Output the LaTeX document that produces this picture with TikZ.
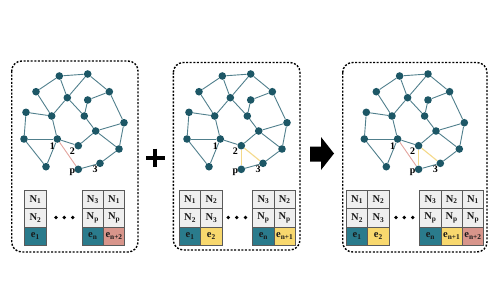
\documentclass[tikz,border=0pt]{standalone}
\usepackage{fontspec}
\setmainfont{Liberation Serif}
\definecolor{nodeteal}{HTML}{1D5766}
\definecolor{edgeteal}{HTML}{507F8C}
\definecolor{edgered}{HTML}{E3A49E}
\definecolor{edgeyellow}{HTML}{F4D98A}
\definecolor{cellgray}{HTML}{EFEFEF}
\definecolor{cellborder}{HTML}{5A5A5A}
\definecolor{eteal}{HTML}{2A7B8C}
\definecolor{eyellow}{HTML}{F8D86E}
\definecolor{esalmon}{HTML}{D8958B}
\newcommand\cN[1]{N\textsubscript{#1}}
\newcommand\cE[1]{e\textsubscript{#1}}
\newcommand\mygraph{%
  \foreach \n/\x/\y in {A/59.3/76, B/87.7/74, C/36/91.7, D/67.3/97.7, E/109.3/91.7, F/87.7/100, G/26/112.3, H/51.7/116, I/84.3/116, J/124/122.7, K/95.7/131, L/24/139, M/57.3/139, N/78.3/145.7, O/119/149, Q/46/166.7, P/78.3/169.3, R/100/163.3}
    {\node[gnode] (\n) at (\x,\y) {};}
  \foreach \a/\b in {A/B,A/C,A/D,B/D,B/E,D/H,D/I,C/H,G/H,G/L,H/M,L/M,L/Q,Q/M,M/N,N/K,I/F,I/K,F/E,E/J,K/J,K/O,J/O,O/R,R/P}
    {\draw[gedge] (\a) -- (\b);}
  \node[glabel] (l1) at (52.3,145.7) {1};
  \node[glabel] (l2) at (72.3,150.7) {2};
  \node[glabel] (lp) at (72.3,172.7) {p};
  \node[glabel] (l3) at (95,169.5) {3};
}
% name, x, text1, text2, text3, fill of last cell
\newcommand\tabcol[6]{%
  \node[ncell] (#1-1) at (#2,190) {#3};
  \node[ncell] (#1-2) at (#2,208.3) {#4};
  \node[cell,fill=#6] (#1-3) at (#2,226.6) {#5};
}
\newcommand\threedots[3]{%
  \fill[black] (#1) circle (1.9);
  \fill[black] (#2) circle (1.9);
  \fill[black] (#3) circle (1.9);
}
\begin{document}
\begin{tikzpicture}[x=1pt,y=-1pt,
  gnode/.style={circle,fill=nodeteal,inner sep=0pt,minimum size=7.6pt},
  gedge/.style={draw=edgeteal,line width=0.9pt},
  redge/.style={draw=edgered,line width=0.9pt},
  yedge/.style={draw=edgeyellow,line width=1.1pt},
  glabel/.style={font=\bfseries\fontsize{10}{10}\selectfont,inner sep=0pt},
  cell/.style={draw=cellborder,line width=0.9pt,minimum width=21.3pt,minimum height=18.3pt,inner sep=0pt,anchor=north west,font=\bfseries\fontsize{10.5}{10.5}\selectfont,text=black!90},
  ncell/.style={cell,fill=cellgray},
  panel/.style={draw=black,line width=1.4pt,dash pattern=on 2pt off 1.6pt,rounded corners=10pt}
]
\useasboundingbox (0,0) rectangle (500,300);

% panels
\draw[panel] (11.7,61) rectangle (138,252);
\draw[panel] (173.3,62.5) rectangle (300,250);
\draw[panel] (342.7,62.5) rectangle (487,252);

% graph 1
\begin{scope}[name prefix=ga-]
  \mygraph
  \draw[redge] (M) -- (P);
\end{scope}
% graph 2
\begin{scope}[shift={(163,0)},name prefix=gb-]
  \mygraph
  \draw[yedge] (N) -- (P);
  \draw[yedge] (N) -- (R);
\end{scope}
% graph 3
\begin{scope}[shift={(340.3,0)},name prefix=gc-]
  \mygraph
  \draw[redge] (M) -- (P);
  \draw[yedge] (N) -- (P);
  \draw[yedge] (N) -- (R);
\end{scope}

% tables panel 1
\tabcol{ta1}{24.3}{\cN{1}}{\cN{2}}{\cE{1}}{eteal}
\tabcol{ta2}{81.7}{\cN{3}}{\cN{p}}{\cE{n}}{eteal}
\tabcol{ta3}{103}{\cN{1}}{\cN{p}}{\cE{n+2}}{esalmon}
\coordinate (da1) at (56,217.5);
\coordinate (da2) at (64.3,217.5);
\coordinate (da3) at (72.7,217.5);
\threedots{da1}{da2}{da3}

% tables panel 2
\tabcol{tb1}{179}{\cN{1}}{\cN{2}}{\cE{1}}{eteal}
\tabcol{tb2}{200.3}{\cN{2}}{\cN{3}}{\cE{2}}{eyellow}
\tabcol{tb3}{252.3}{\cN{3}}{\cN{p}}{\cE{n}}{eteal}
\tabcol{tb4}{273.6}{\cN{2}}{\cN{p}}{\cE{n+1}}{eyellow}
\coordinate (db1) at (228.3,217.5);
\coordinate (db2) at (236.8,217.5);
\coordinate (db3) at (245.5,217.5);
\threedots{db1}{db2}{db3}

% tables panel 3
\tabcol{tc1}{346}{\cN{1}}{\cN{2}}{\cE{1}}{eteal}
\tabcol{tc2}{367.3}{\cN{2}}{\cN{3}}{\cE{2}}{eyellow}
\tabcol{tc3}{419.3}{\cN{3}}{\cN{p}}{\cE{n}}{eteal}
\tabcol{tc4}{440.6}{\cN{2}}{\cN{p}}{\cE{n+1}}{eyellow}
\tabcol{tc5}{461.9}{\cN{1}}{\cN{p}}{\cE{n+2}}{esalmon}
\coordinate (dc1) at (396,217.5);
\coordinate (dc2) at (404.3,217.5);
\coordinate (dc3) at (412.7,217.5);
\threedots{dc1}{dc2}{dc3}

% plus sign
\draw[line width=4pt] (146,157.7) -- (164.5,157.7);
\draw[line width=4pt] (155.2,148.5) -- (155.2,167);

% big arrow
\fill[black] (310,146.5) -- (321,146.5) -- (321,137) -- (334,153.5) -- (321,170) -- (321,161.5) -- (310,161.5) -- cycle;
\end{tikzpicture}
\end{document}
